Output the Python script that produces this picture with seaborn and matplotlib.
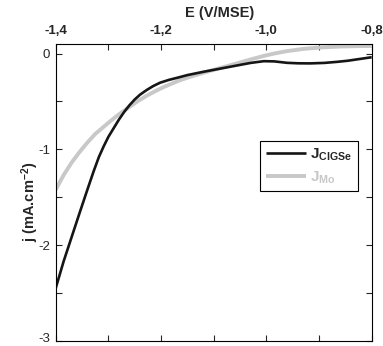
import numpy as np
import pandas as pd
import matplotlib
matplotlib.use("Agg")
import matplotlib.pyplot as plt
import matplotlib.transforms as mtransforms
import seaborn as sns
from matplotlib.ticker import MultipleLocator

sns.set_style("ticks")
plt.rcParams['font.family'] = ['Liberation Sans', 'DejaVu Sans']
plt.rcParams['mathtext.fontset'] = 'custom'
plt.rcParams['mathtext.rm'] = 'Liberation Sans:bold'
plt.rcParams['mathtext.bf'] = 'Liberation Sans:bold'
plt.rcParams['mathtext.it'] = 'Liberation Sans:bold'

# Data
e_cigse = [-1.400, -1.385, -1.370, -1.355, -1.341, -1.328, -1.318, -1.309, -1.300, -1.290,
           -1.280, -1.270, -1.260, -1.250, -1.240, -1.227, -1.215, -1.202, -1.185, -1.167,
           -1.150, -1.119, -1.085, -1.056, -1.030, -1.005, -0.985, -0.961, -0.940, -0.917,
           -0.890, -0.866, -0.845, -0.829, -0.803, -0.800]
j_cigse = [-2.45, -2.17, -1.92, -1.67, -1.44, -1.23, -1.08, -0.97, -0.87, -0.78,
           -0.69, -0.61, -0.54, -0.48, -0.43, -0.38, -0.34, -0.305, -0.275, -0.25,
           -0.225, -0.19, -0.155, -0.125, -0.098, -0.08, -0.082, -0.097, -0.102, -0.103,
           -0.098, -0.087, -0.075, -0.062, -0.041, -0.04]
e_mo = [-1.400, -1.385, -1.370, -1.355, -1.340, -1.325, -1.310, -1.295, -1.280, -1.262,
        -1.245, -1.227, -1.210, -1.195, -1.180, -1.167, -1.150, -1.119, -1.090, -1.056,
        -1.030, -1.005, -0.985, -0.961, -0.930, -0.898, -0.860, -0.830, -0.800]
j_mo = [-1.42, -1.27, -1.14, -1.03, -0.93, -0.84, -0.77, -0.70, -0.635, -0.565,
        -0.50, -0.44, -0.39, -0.35, -0.315, -0.285, -0.252, -0.20, -0.155, -0.103,
        -0.062, -0.025, 0.0, 0.025, 0.048, 0.063, 0.073, 0.077, 0.079]

xticks = [-1.4, -1.2, -1.0, -0.8]
xticklabels = ["-1,4", "-1,2", "-1,0", "-0,8"]
yticks = [0, -1, -2, -3]
yticklabels = ["0", "-1", "-2", "-3"]

df = pd.concat([
    pd.DataFrame({"E": e_cigse, "j": j_cigse, "s": "CIGSe"}),
    pd.DataFrame({"E": e_mo, "j": j_mo, "s": "Mo"}),
])

fig = plt.figure(figsize=(3.83, 3.46), dpi=100)
ax = fig.add_axes([0.1454, 0.0145, 0.8251, 0.8585])

sns.lineplot(data=df[df.s == "Mo"], x="E", y="j", color="#c8c8c8", lw=2.8, ax=ax,
             label=r"$\mathrm{J}_{\mathrm{Mo}}$", estimator=None, sort=False)
sns.lineplot(data=df[df.s == "CIGSe"], x="E", y="j", color="#151515", lw=1.9, ax=ax,
             label=r"$\mathrm{J}_{\mathrm{CIGSe}}$", estimator=None, sort=False)
for ln in ax.lines:
    ln.set_solid_capstyle("butt")
    ln.set_solid_joinstyle("round")

ax.set_xlim(-1.4, -0.8)
ax.set_ylim(-3, 0.1)
ax.set_xticks(xticks)
ax.set_xticklabels(xticklabels, fontweight="bold", fontsize=9.5)
ax.xaxis.set_minor_locator(MultipleLocator(0.1))
ax.set_yticks(yticks)
ax.set_yticklabels(yticklabels, fontsize=9.5)
ax.yaxis.set_minor_locator(MultipleLocator(0.5))
ax.tick_params(which="both", direction="in", top=True, bottom=True, left=True, right=True,
               labeltop=True, labelbottom=False, length=4, width=0.8)
ax.tick_params(axis="x", pad=5)
ax.tick_params(axis="y", pad=4)
# nudge the bottom "-3" label up slightly so it stays inside the figure
lab3 = ax.get_yticklabels()[-1]
lab3.set_transform(lab3.get_transform() + mtransforms.ScaledTranslation(0, 3 / 100, fig.dpi_scale_trans))

ax.xaxis.set_label_position("top")
ax.set_xlabel("E (V/MSE)", fontweight="bold", fontsize=10.5)
ax.xaxis.set_label_coords(0.52, 1.09)
ax.set_ylabel(r"j (mA.cm$^{-2}$)", fontweight="bold", fontsize=10.5)
ax.yaxis.set_label_coords(-0.045, 0.47)
for s in ax.spines.values():
    s.set_linewidth(0.8)
    s.set_color("black")

h, l = ax.get_legend_handles_labels()
leg = ax.legend(h[::-1], l[::-1], loc="upper left", bbox_to_anchor=(0.648, 0.672),
                frameon=True, fancybox=False, edgecolor="black", framealpha=1,
                fontsize=11, handlelength=2.6, borderpad=0.35, labelspacing=0.4,
                handletextpad=0.3, borderaxespad=0)
leg.get_frame().set_linewidth(0.8)
leg.get_texts()[1].set_color("#c8c8c8")

fig.savefig("out.png", dpi=100)
